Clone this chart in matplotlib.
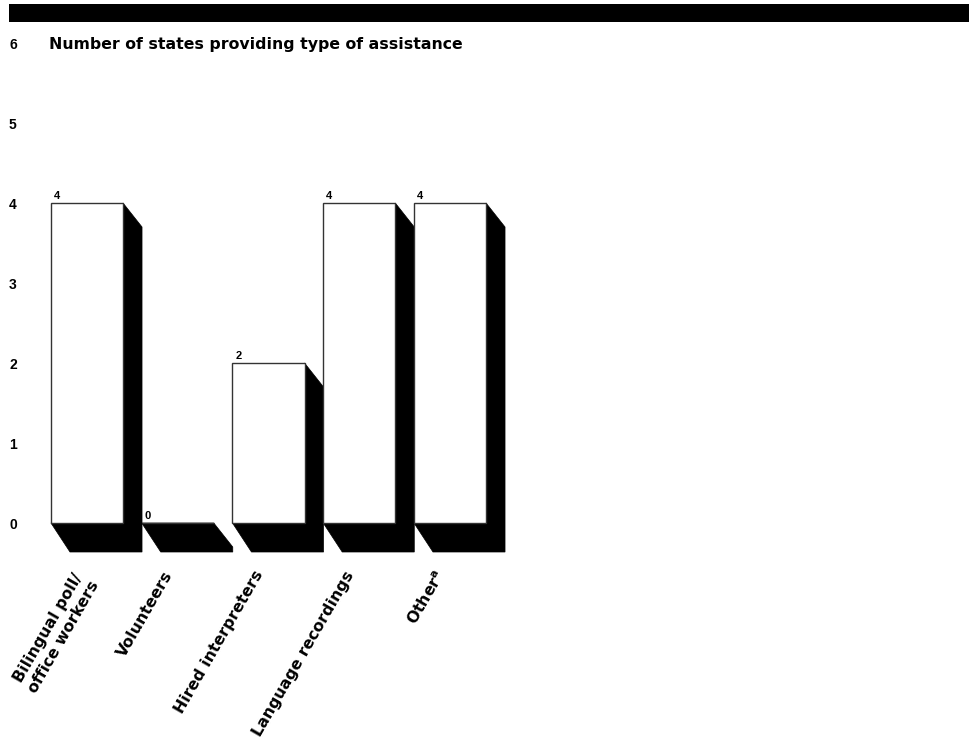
import matplotlib
matplotlib.use('Agg')
import matplotlib.pyplot as plt
from matplotlib.patches import Rectangle, Polygon
import numpy as np

plt.rcParams['font.family'] = ['Liberation Sans', 'DejaVu Sans']
plt.rcParams['mathtext.fontset'] = 'custom'
plt.rcParams['mathtext.rm'] = 'DejaVu Sans'

categories = ['Bilingual poll/\noffice workers', 'Volunteers', 'Hired interpreters',
              'Language recordings', r'Other$^{\mathregular{a}}$']
values = [4, 0, 2, 4, 4]
y_ticks = [0, 1, 2, 3, 4, 5, 6]
title = 'Number of states providing type of assistance'

wide = ['DejaVu Sans']

fig = plt.figure(figsize=(9.69, 7.4), dpi=100)
ax = fig.add_axes([0, 0, 1, 1])
ax.set_xlim(-87 / 90.75, (969 - 87) / 90.75)
ax.set_ylim((523 - 740) / 80, 523 / 80)
ax.axis('off')

# black band at the top
fig.add_artist(Rectangle((9 / 969, (740 - 22) / 740), 1, 18 / 740,
                         transform=fig.transFigure, color='black', lw=0))

x = np.arange(len(values))
w = 0.794
dx = 19 / 90.75
# shadows
for xi, v in zip(x, values):
    x0, x1 = xi - w / 2, xi + w / 2
    pts = [(x1, v), (x1 + dx, max(v - 0.3, -0.3625)), (x1 + dx, -0.3625),
           (x0 + dx, -0.3625), (x0, 0), (x1, 0)]
    ax.add_patch(Polygon(pts, closed=True, facecolor='black', edgecolor='black',
                         lw=0.5, zorder=1))

ax.bar(x, values, width=w, color='white', edgecolor='#333333', linewidth=1.0, zorder=2)

for xi, v in zip(x, values):
    ax.text(xi - w / 2 + 3 / 90.75, v + 0.03, str(v), ha='left', va='bottom',
            fontsize=8, fontweight='bold')

for t in y_ticks:
    ax.text((9 - 87) / 90.75, t - 2 / 80, str(t), ha='left', va='center',
            fontsize=10, fontweight='bold')

ax.text((49 - 87) / 90.75, 6 - 2 / 80, title, ha='left', va='center',
        fontsize=11.3, fontweight='bold', family=wide)

for xi, lab in zip(x, categories):
    n = lab.count('\n')
    ax.text(xi + (-9 + 10 * n) / 90.75, -0.6125 - 6 * n / 80, lab, ha='right', va='center',
            rotation=60, rotation_mode='anchor', multialignment='center',
            fontsize=11.3, fontweight='bold', family=wide, linespacing=1.25)

fig.savefig('out.png', dpi=100)
